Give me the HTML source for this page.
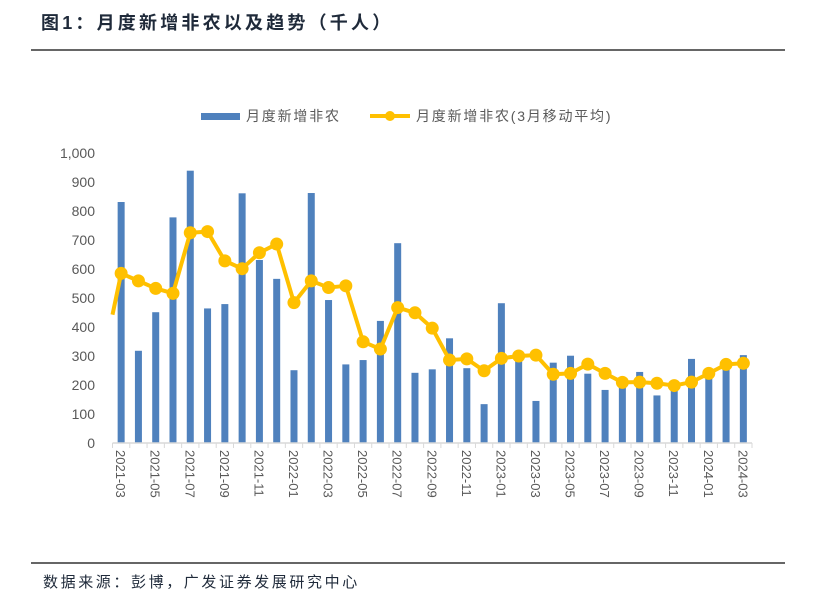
<!DOCTYPE html>
<html><head><meta charset="utf-8">
<style>
body{margin:0;background:#fff;width:814px;height:605px;overflow:hidden;font-family:"Liberation Sans","Noto Sans CJK SC",sans-serif;}
</style></head>
<body>
<svg width="814" height="605" viewBox="0 0 814 605" xmlns="http://www.w3.org/2000/svg">
<text x="41" y="29" font-size="18" font-weight="bold" letter-spacing="3.2" fill="#1f2a3a" font-family="Liberation Sans,Noto Sans CJK SC,sans-serif">图1：月度新增非农以及趋势（千人）</text>
<line x1="31" y1="50" x2="785" y2="50" stroke="#333" stroke-width="1.5"/>
<g>
<rect x="201" y="113" width="39" height="7" fill="#4f81bd"/>
<text x="246" y="121" font-size="14" letter-spacing="1.8" fill="#595959">月度新增非农</text>
<line x1="370" y1="116" x2="410" y2="116" stroke="#ffc000" stroke-width="4"/>
<circle cx="390" cy="116" r="5" fill="#ffc000"/>
<text x="416" y="121" font-size="14" letter-spacing="1.8" fill="#595959">月度新增非农(3月移动平均)</text>
</g>
<g id="plot"></g>
<line x1="31" y1="563" x2="785" y2="563" stroke="#333" stroke-width="1.5"/>
<text x="43" y="587" font-size="15" letter-spacing="2.6" fill="#1f2a3a">数据来源：彭博，广发证券发展研究中心</text>
</svg>
<script>
const months=["2021-03","2021-04","2021-05","2021-06","2021-07","2021-08","2021-09","2021-10","2021-11","2021-12","2022-01","2022-02","2022-03","2022-04","2022-05","2022-06","2022-07","2022-08","2022-09","2022-10","2022-11","2022-12","2023-01","2023-02","2023-03","2023-04","2023-05","2023-06","2023-07","2023-08","2023-09","2023-10","2023-11","2023-12","2024-01","2024-02","2024-03"];
const payrolls=[831,318,451,778,939,464,479,861,631,566,251,862,493,271,286,421,689,242,254,361,258,134,482,286,145,277,301,239,183,210,245,164,180,290,230,260,303];
const movingAvg=[585,559,533,516,725,729,628,601,656,686,484,559,536,542,349,324,467,449,396,286,290,249,292,300,303,237,240,272,240,209,210,206,198,210,240,271,275];
const priorAvg=300;
const yTicks=[0,100,200,300,400,500,600,700,800,900,1000];
const yTickLabels=["0","100","200","300","400","500","600","700","800","900","1,000"];

const NS="http://www.w3.org/2000/svg";
const plot=document.getElementById('plot');
const x0=112.5,x1=752,y0=443,yTop=153;
const step=(x1-x0)/months.length;
const xc=i=>x0+step*(i+0.5);
const yv=v=>y0-(v/1000)*(y0-yTop);
function mk(tag,attrs){const e=document.createElementNS(NS,tag);for(const k in attrs)e.setAttribute(k,attrs[k]);plot.appendChild(e);return e;}

yTicks.forEach((t,i)=>{
  const tx=mk('text',{x:95,y:yv(t)+5,'font-size':14,fill:'#595959','text-anchor':'end'});
  tx.textContent=yTickLabels[i];
  
  
});
payrolls.forEach((v,i)=>{
  const r=mk('rect',{x:xc(i)-3.5,y:yv(v),width:7,height:y0-yv(v),fill:'#4f81bd'});
  
  
});
const ax=mk('line',{x1:x0,y1:y0,x2:x1,y2:y0,stroke:'#d9d9d9','stroke-width':1.5});


for(let i=0;i<=months.length;i++){
  const tk=mk('line',{x1:x0+step*i,y1:y0,x2:x0+step*i,y2:y0+5,stroke:'#d9d9d9'});
  
  
}
months.forEach((m,i)=>{
  if(i%2)return;
  const tx=mk('text',{x:0,y:0,'font-size':13,fill:'#595959',transform:`translate(${xc(i)-5},450) rotate(90)`});
  tx.textContent=m;
  
  
});
let d=`M${x0},${yv(priorAvg)+(yv(movingAvg[0])-yv(priorAvg))*(x0-(xc(0)-step))/step} `;
d+=movingAvg.map((v,i)=>`L${xc(i)},${yv(v)}`).join(' ');
const ln=mk('path',{d:d,fill:'none',stroke:'#ffc000','stroke-width':4,'stroke-linejoin':'round'});


movingAvg.forEach((v,i)=>{
  const c=mk('circle',{cx:xc(i),cy:yv(v),r:6.5,fill:'#ffc000'});
  
  
});
</script>
</body></html>
